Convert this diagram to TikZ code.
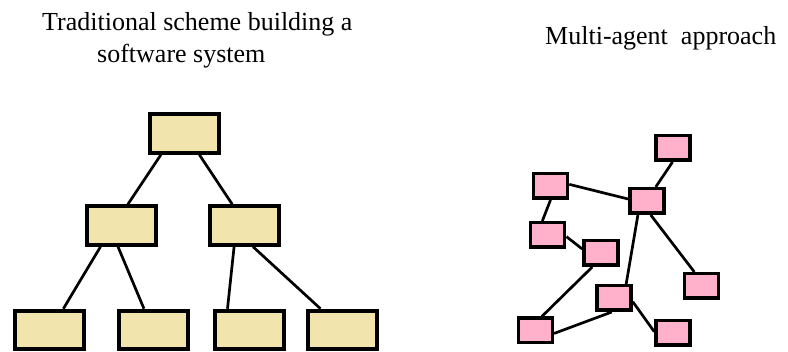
\documentclass[tikz,border=0pt]{standalone}
\usepackage{fontspec}
\setmainfont{Liberation Serif}
\definecolor{strawbeige}{HTML}{F1E4AC}
\definecolor{agentpink}{HTML}{FFB0CB}
\usetikzlibrary{positioning}

\tikzset{
  tradbox/.style={draw=black,fill=strawbeige,line width=4pt,minimum width=69pt,minimum height=38.5pt,inner sep=0pt},
  agentbox/.style={draw=black,fill=agentpink,line width=3.5pt,minimum width=34pt,minimum height=24.5pt,inner sep=0pt},
  link/.style={draw=black,line width=2.7pt},
  caption/.style={font=\fontsize{26}{30}\selectfont,inner sep=0pt,anchor=base west}
}

\begin{document}
\begin{tikzpicture}[x=1pt,y=-1pt]
  \useasboundingbox (0,0) rectangle (788,352);

  % Titles
  \node[caption] (tradA) at (42,30.5) {Traditional scheme building a};
  \node[caption] (tradB) at (97,63) {software system};
  \node[caption] (multi) at (545,45) {Multi-agent\ \ approach};

  % Traditional hierarchy
  \node[tradbox] (root) at (184.5,133.5) {};
  \node[tradbox] (midL) at (121,225.5) {};
  \node[tradbox] (midR) at (244,225.5) {};
  \node[tradbox] (leafA) at (49,330) {};
  \node[tradbox] (leafB) at (153,330) {};
  \node[tradbox] (leafC) at (249.5,330) {};
  \node[tradbox] (leafD) at (342.5,330) {};

  \draw[link] (root.222) -- (midL.72);
  \draw[link] (root.305) -- (midR.119);
  \draw[link] (midL.226) -- (leafA.56);
  \draw[link] (midL.262) -- (leafB.113);
  \draw[link] (midR.245) -- (leafC.136);
  \draw[link] (midR.293) -- (leafD.136);

  % Agents
  \node[agentbox] (agTop) at (673,148) {};
  \node[agentbox] (agUp) at (550.5,186) {};
  \node[agentbox] (agHub) at (647,201) {};
  \node[agentbox] (agMid) at (547.7,235) {};
  \node[agentbox] (agInner) at (601,253) {};
  \node[agentbox] (agRight) at (701.5,286) {};
  \node[agentbox] (agLow) at (614,298) {};
  \node[agentbox] (agCorner) at (535.3,330.5) {};
  \node[agentbox] (agEnd) at (673,333) {};

  \draw[link] (agTop.268) -- (agHub.58);
  \draw[link] (agUp.5) -- (agHub.174);
  \draw[link] (agUp.270) -- (agMid.111);
  \draw[link] (agMid.355) -- (agInner.168);
  \draw[link] (agInner.238) -- (agCorner.65);
  \draw[link] (agCorner.351) -- (agLow.261);
  \draw[link] (agLow.49) -- (agHub.237);
  \draw[link] (agHub.285) -- (agRight.117);
  \draw[link] (agLow.349) -- (agEnd.176);
\end{tikzpicture}
\end{document}
